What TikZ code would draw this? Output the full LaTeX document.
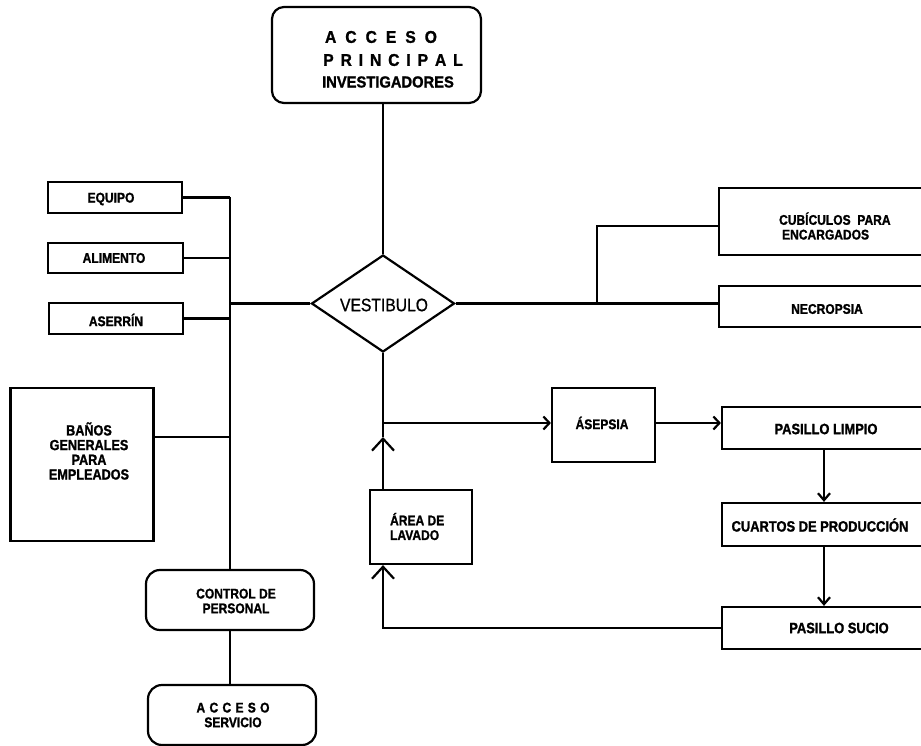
\documentclass[tikz,border=0pt]{standalone}
\usepackage{fontspec}
\setmainfont{Liberation Sans}[FakeStretch=0.86, BoldFeatures={FakeBold=1.3}]
\newfontfamily\topfont{Liberation Sans}[FakeStretch=0.92, BoldFeatures={FakeBold=1.3}]
\newfontfamily\vfont{Liberation Sans}[FakeStretch=0.87, FakeBold=0.8]
\usetikzlibrary{shapes.geometric,arrows.meta}
\newcommand\lspA{\kern9pt}
\newcommand\lspB{\kern6.9pt}
\newcommand\lspC{\kern4.3pt}
\begin{document}
\begin{tikzpicture}[x=1pt,y={(0,-1pt)}, line width=2.2pt,
  box/.style={draw, rectangle, inner sep=0pt},
  rbox/.style={draw, rectangle, rounded corners=13pt, inner sep=0pt},
  lab/.style={inner sep=0pt, font=\bfseries\fontsize{14}{14.7}\selectfont, align=center},
  labr/.style={inner sep=0pt, font=\bfseries\fontsize{15}{15}\selectfont, align=center},
  bigarr/.style={-{Straight Barb[length=12pt,width=22pt]}},
  medarr/.style={-{Straight Barb[length=7pt,width=12pt]}},
  smarr/.style={-{Straight Barb[length=6pt,width=13pt]}}]
\useasboundingbox (0,0) rectangle (921,746);
\clip (0,0) rectangle (921,746);

% top access
\node[rbox, rounded corners=12pt, minimum width=209pt, minimum height=96pt] (top) at (376.5,55) {};
\node[lab, font=\topfont\bfseries\fontsize{17}{20}\selectfont] (t1) at (381,37) {A\lspA C\lspA C\lspA E\lspA S\lspA O};
\node[lab, font=\topfont\bfseries\fontsize{17}{20}\selectfont] (t2) at (393,60) {P\lspB R\lspB I\lspB N\lspB C\lspB I\lspB P\lspB A\lspB L};
\node[lab, font=\topfont\bfseries\fontsize{16}{18}\selectfont] (t3) at (388,82) {INVESTIGADORES};

% diamond
\node[draw, diamond, aspect=1.47, minimum width=143pt, minimum height=97pt, inner sep=0pt] (ves) at (383,303.5) {};
\node[inner sep=0pt, font=\vfont\fontsize{18}{20}\selectfont] (vest) at (384,305) {VESTIBULO};

% left boxes
\node[box, minimum width=134pt, minimum height=31pt] (equipo) at (115,197.5) {};
\node[lab] (equipot) at (111,199) {EQUIPO};
\node[box, minimum width=135pt, minimum height=30pt] (alim) at (115.5,258) {};
\node[lab] (alimt) at (114,258) {ALIMENTO};
\node[box, minimum width=134pt, minimum height=31pt] (aser) at (116,318.5) {};
\node[lab] (asert) at (116,320) {ASERRÍN};
\node[box, minimum width=143pt, minimum height=153pt] (banos) at (82,464.5) {};
\node[lab, font=\bfseries\fontsize{14.7}{14.7}\selectfont] (banost) at (89,451) {BAÑOS\\GENERALES\\PARA\\EMPLEADOS};

\node[rbox, rounded corners=14pt, minimum width=168pt, minimum height=60pt] (control) at (230,600) {};
\node[lab] (controlt) at (236,601) {CONTROL DE\\PERSONAL};
\node[rbox, rounded corners=14pt, minimum width=168pt, minimum height=60pt] (servicio) at (232,715) {};
\node[lab] (serviciot) at (233,715) {A\lspC C\lspC C\lspC E\lspC S\lspC O\\SERVICIO};

% right boxes
\node[box, minimum width=221pt, minimum height=67pt] (cub) at (829.5,221.5) {};
\node[lab, align=left, anchor=west] (cubt) at (778,226) {CUBÍCULOS\ \ PARA\\\hspace*{3pt}ENCARGADOS};
\node[box, minimum width=221pt, minimum height=41pt] (nec) at (829.5,306.5) {};
\node[lab] (nect) at (827,309) {NECROPSIA};

\node[box, minimum width=103pt, minimum height=74pt] (asep) at (603.5,425) {};
\node[lab] (asept) at (602,423) {ÁSEPSIA};
\node[box, minimum width=102pt, minimum height=74pt] (area) at (421,527) {};
\node[lab, align=left, anchor=west] (areat) at (389,526.5) {ÁREA DE\\LAVADO};

\node[box, minimum width=218pt, minimum height=42pt] (limpio) at (831,428) {};
\node[labr] (limpiot) at (826,429) {PASILLO LIMPIO};
\node[box, minimum width=218pt, minimum height=43pt] (cuartos) at (831,524.5) {};
\node[labr] (cuartost) at (820,525) {CUARTOS DE PRODUCCIÓN};
\node[box, minimum width=218pt, minimum height=42pt] (sucio) at (831,628) {};
\node[labr] (suciot) at (839,628) {PASILLO SUCIO};

% connectors left
\coordinate (bx) at (230,0);
\coordinate (bj) at (230,437);
\draw (equipo.east) -- (equipo.east -| bx);
\draw (alim.east) -- (alim.east -| bx);
\draw (aser.east) -- (aser.east -| bx);
\draw (bj -| banos.east) -- (bj);
\draw (equipo.east -| bx) -- (control.north);
\draw (ves.west) -- (ves.west -| bx);
\draw (control.south) -- (control.south |- servicio.north);

% top
\draw (ves.north |- top.south) -- (ves.north);

% right
\coordinate (cj) at (597,303.5);
\coordinate (cj2) at (597,226);
\draw (ves.east) -- (ves.east -| nec.west);
\draw (cj) -- (cj2) -- (cj2 -| cub.west);

% bottom flow
\coordinate (h1) at (0,437);
\coordinate (h2) at (0,423);
\coordinate (m1) at (ves.south |- h1);
\coordinate (m2) at (ves.south |- h2);
\draw[bigarr] (ves.south |- area.north) -- (m1);
\draw (m1) -- (ves.south);
\draw[smarr] (m2) -- (m2 -| asep.west);
\draw[smarr] (asep.east |- m2) -- (limpio.west |- m2);
\coordinate (vx) at (824,0);
\draw[medarr] (limpio.south -| vx) -- (cuartos.north -| vx);
\draw[medarr] (cuartos.south -| vx) -- (sucio.north -| vx);
\draw[bigarr] (sucio.west) -- (sucio.west -| ves.south) -- (ves.south |- area.south);
\end{tikzpicture}
\end{document}
